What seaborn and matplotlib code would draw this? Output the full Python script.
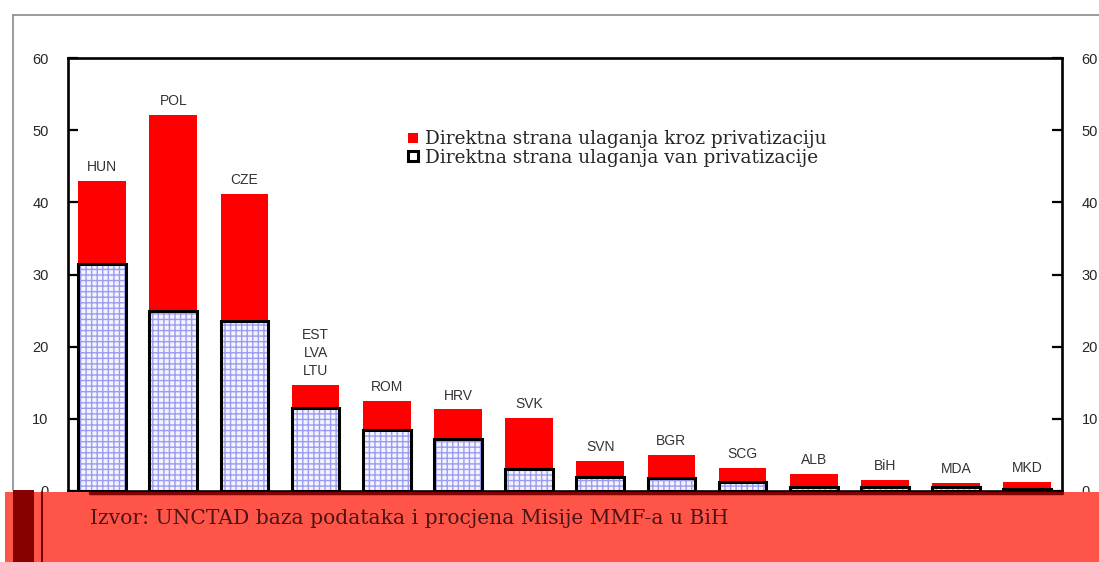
import matplotlib
matplotlib.use("Agg")
import matplotlib.pyplot as plt
import seaborn as sns
import pandas as pd
from matplotlib.patches import Patch, Rectangle
from matplotlib.lines import Line2D

# data (percent)
countries = ["HUN", "POL", "CZE", "EST\nLVA\nLTU", "ROM", "HRV", "SVK",
             "SVN", "BGR", "SCG", "ALB", "BiH", "MDA", "MKD"]
total_fdi = [42.9, 52.1, 41.1, 14.7, 12.5, 11.3, 10.1, 4.2, 5.0, 3.2, 2.3, 1.5, 1.1, 1.3]
non_priv_fdi = [31.4, 24.9, 23.5, 11.5, 8.5, 7.2, 3.1, 1.9, 1.8, 1.2, 0.6, 0.6, 0.5, 0.3]
y_ticks = [0, 10, 20, 30, 40, 50, 60]

legend_labels = ["Direktna strana ulaganja kroz privatizaciju",
                 "Direktna strana ulaganja van privatizacije"]
source_text = "Izvor: UNCTAD baza podataka i procjena Misije MMF-a u BiH"

df = pd.DataFrame({"country": countries, "total": total_fdi, "nonpriv": non_priv_fdi})

sns.set_style("white")
plt.rcParams["font.family"] = ["Liberation Sans", "DejaVu Sans"]

fig = plt.figure(figsize=(10.99, 5.62), dpi=100)
ax = fig.add_axes([68 / 1099, 1 - 491 / 562, (1062 - 68) / 1099, (491 - 58) / 562])

bar_w = 0.67
sns.barplot(data=df, x="country", y="total", color="#ff0000", saturation=1,
            width=bar_w, ax=ax, linewidth=0)
red_bars = ax.containers[0]
sns.barplot(data=df, x="country", y="nonpriv", color="#f4f4ff", saturation=1,
            width=bar_w, ax=ax, hatch="+++", edgecolor="#9c9cf2", linewidth=0)
# black outline around the non-privatisation part
ax.bar(range(len(countries)), non_priv_fdi, width=bar_w, fill=False,
       edgecolor="black", linewidth=2.2, zorder=3)

ax.bar_label(red_bars, labels=countries, padding=5, fontsize=10,
             color="#333333", linespacing=1.35)

ax.set_xlim(-0.48, len(countries) - 0.51)
ax.set_ylim(0, 60)
ax.set_yticks(y_ticks)
ax.set_xticks([i + 0.5 for i in range(len(countries) - 1)])
ax.set_xticklabels([])
ax.set_xlabel("")
ax.set_ylabel("")
ax.tick_params(axis="x", direction="in", length=3, width=1.5, color="black")
ax.tick_params(axis="y", direction="in", length=7, width=1.6, color="black",
               left=True, right=True, labelleft=True, labelright=True,
               labelsize=10.5, labelcolor="#262626", pad=14)
for s in ax.spines.values():
    s.set_visible(True)
    s.set_color("black")
    s.set_linewidth(1.9)

handles = [Patch(facecolor="#ff0000", edgecolor="none"),
           Patch(facecolor="white", edgecolor="black", linewidth=2.2)]
fig.legend(handles, legend_labels, loc="upper left",
           bbox_to_anchor=(399 / 1099, 1 - 121 / 562), frameon=False,
           prop={"family": "DejaVu Serif", "size": 13.3}, handlelength=0.55,
           handleheight=0.45, handletextpad=0.35, labelspacing=0.02, borderpad=0)

# outer light frame
fig.add_artist(Line2D([13 / 1099, 1], [1 - 15 / 562, 1 - 15 / 562], color="#8a8a8a", lw=1.2))
fig.add_artist(Line2D([13 / 1099, 13 / 1099], [1 - 15 / 562, 1 - 490 / 562], color="#8a8a8a", lw=1.2))

# red band with the source note at the bottom
fig.add_artist(Rectangle((5 / 1099, 0), 1, 1 - 492 / 562, transform=fig.transFigure,
                         facecolor="#ff5549", edgecolor="none", zorder=10))
fig.add_artist(Line2D([90 / 1099, 1062 / 1099], [1 - 493 / 562, 1 - 493 / 562],
                      color="#800000", lw=2.5, zorder=11))
fig.add_artist(Rectangle((13 / 1099, 0), 21 / 1099, 1 - 490 / 562, transform=fig.transFigure,
                         facecolor="#870000", edgecolor="none", zorder=11))
fig.add_artist(Line2D([42 / 1099, 42 / 1099], [0, 1 - 492 / 562], color="#7a0000", lw=1.5, zorder=11))
fig.text(90 / 1099, 1 - 518 / 562, source_text, family="DejaVu Serif", fontsize=14.6,
         color="#4a1414", va="center", ha="left", zorder=12)

fig.savefig("out.png", dpi=100)
